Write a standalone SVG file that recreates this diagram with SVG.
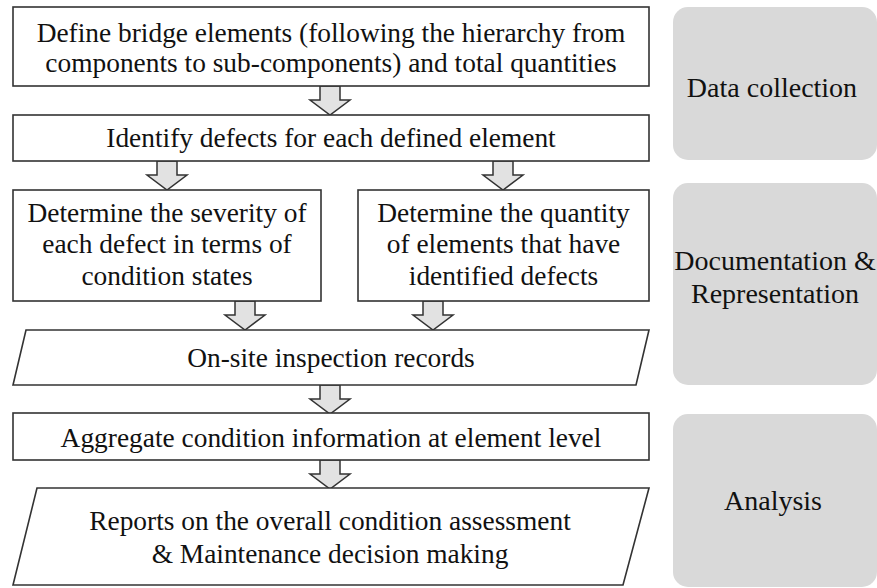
<svg xmlns="http://www.w3.org/2000/svg" width="877" height="588" viewBox="0 0 877 588">
  <style>
    .box { fill: #ffffff; stroke: #333333; stroke-width: 1.6; }
    .stage { fill: #d9d9d9; stroke: none; }
    .arrow { fill: #e2e2e2; stroke: #333333; stroke-width: 1.5; stroke-linejoin: miter; }
    text { font-family: "Liberation Serif", "Times New Roman", serif; font-size: 27.4px; fill: #111111; text-anchor: middle; }
    .stage-label { font-size: 28px; }
  </style>
  <defs>
    <!-- block arrow pointing down; origin at top centre of the shaft -->
    <path id="blockArrow" d="M-10,0 H10 V14 H20 L0,29 L-20,14 H-10 Z"/>
  </defs>

  <rect width="877" height="588" fill="#ffffff"/>

  <!-- stage panels -->
  <g id="stage-data-collection">
    <rect class="stage" x="673" y="7" width="204" height="153" rx="15"/>
    <text class="stage-label" x="772" y="97">Data collection</text>
  </g>
  <g id="stage-documentation">
    <rect class="stage" x="673" y="183" width="204" height="202" rx="15"/>
    <text class="stage-label" x="775" y="270">Documentation &amp;</text>
    <text class="stage-label" x="775" y="303">Representation</text>
  </g>
  <g id="stage-analysis">
    <rect class="stage" x="673" y="414" width="204" height="173" rx="15"/>
    <text class="stage-label" x="773" y="510">Analysis</text>
  </g>

  <!-- connectors -->
  <g id="connectors">
    <use href="#blockArrow" class="arrow" x="330" y="86"/>
    <use href="#blockArrow" class="arrow" x="167" y="161"/>
    <use href="#blockArrow" class="arrow" x="503" y="161"/>
    <use href="#blockArrow" class="arrow" x="245" y="301"/>
    <use href="#blockArrow" class="arrow" x="433" y="301"/>
    <use href="#blockArrow" class="arrow" x="330" y="385"/>
    <use href="#blockArrow" class="arrow" x="330" y="460"/>
  </g>

  <!-- process steps -->
  <g id="define-elements">
    <rect class="box" x="13" y="7" width="636" height="79"/>
    <text x="331" y="42">Define bridge elements (following the hierarchy from</text>
    <text x="331" y="72">components to sub-components) and total quantities</text>
  </g>
  <g id="identify-defects">
    <rect class="box" x="13" y="115" width="636" height="46"/>
    <text x="331" y="147">Identify defects for each defined element</text>
  </g>
  <g id="severity">
    <rect class="box" x="13" y="190" width="308" height="111"/>
    <text x="167" y="222">Determine the severity of</text>
    <text x="167" y="253">each defect in terms of</text>
    <text x="167" y="285">condition states</text>
  </g>
  <g id="quantity">
    <rect class="box" x="358" y="190" width="291" height="111"/>
    <text x="503.5" y="222">Determine the quantity</text>
    <text x="503.5" y="253">of elements that have</text>
    <text x="503.5" y="285">identified defects</text>
  </g>
  <g id="inspection-records">
    <polygon class="box" points="26,330 649,330 636,385 13,385"/>
    <text x="331" y="367">On-site inspection records</text>
  </g>
  <g id="aggregate">
    <rect class="box" x="13" y="413" width="636" height="47"/>
    <text x="331" y="447">Aggregate condition information at element level</text>
  </g>
  <g id="reports">
    <polygon class="box" points="37,488 649,488 623,585 13,585"/>
    <text x="330" y="530">Reports on the overall condition assessment</text>
    <text x="330" y="563">&amp; Maintenance decision making</text>
  </g>
</svg>
